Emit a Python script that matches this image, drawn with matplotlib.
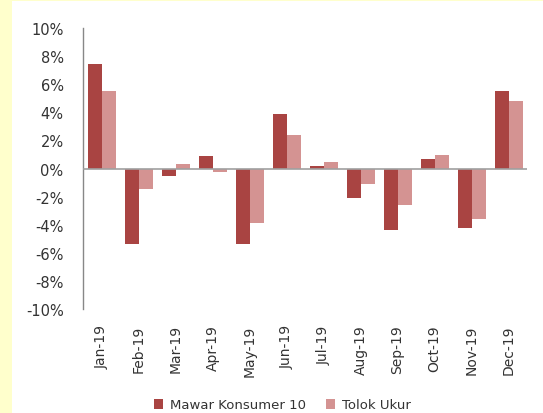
import matplotlib
matplotlib.use("Agg")
import matplotlib.pyplot as plt
import numpy as np
from matplotlib.patches import Rectangle
from matplotlib.ticker import FuncFormatter

months = ["Jan-19", "Feb-19", "Mar-19", "Apr-19", "May-19", "Jun-19",
          "Jul-19", "Aug-19", "Sep-19", "Oct-19", "Nov-19", "Dec-19"]
mawar = [7.45, -5.35, -0.52, 0.86, -5.35, 3.88, 0.17, -2.07, -4.40, 0.65, -4.25, 5.52]
tolok = [5.52, -1.47, 0.34, -0.26, -3.85, 2.37, 0.43, -1.07, -2.57, 0.96, -3.57, 4.80]
series_names = ["Mawar Konsumer 10", "Tolok Ukur"]
yticks = [-10, -8, -6, -4, -2, 0, 2, 4, 6, 8, 10]

c_dark = "#A94442"
c_light = "#D49392"

fig = plt.figure(figsize=(5.43, 4.14), dpi=100)
fig.patch.set_facecolor("white")
fig.patches.append(Rectangle((0, 0), 12/543, 1, transform=fig.transFigure,
                             facecolor="#FFFFCC", edgecolor="none", zorder=0))
fig.patches.append(Rectangle((0, 1-2/414), 1, 2/414, transform=fig.transFigure,
                             facecolor="#FFFFCC", edgecolor="none", zorder=0))

ax = fig.add_axes([83/543, 1-310/414, (527-83)/543, (310-29)/414])
x = np.arange(len(months))
w = 14/37
ax.bar(x - w/2, mawar, w, color=c_dark, label=series_names[0], zorder=2)
ax.bar(x + w/2, tolok, w, color=c_light, label=series_names[1], zorder=2)

ax.set_xlim(-0.5, len(months) - 0.5)
ax.set_ylim(-10, 10)
ax.set_yticks(yticks)
ax.yaxis.set_major_formatter(FuncFormatter(lambda v, p: f"{int(v)}%"))
ax.set_xticks(x)
ax.set_xticklabels(months, rotation=90)
ax.axhline(0, color="#A0A0A0", lw=1.2, zorder=3)

for s in ["top", "right", "bottom"]:
    ax.spines[s].set_visible(False)
ax.spines["left"].set_color("#888888")
ax.spines["left"].set_linewidth(1.0)
ax.tick_params(axis="y", length=0, pad=14, labelsize=10.5, labelcolor="#333333")
ax.tick_params(axis="x", length=0, pad=11, labelsize=10, labelcolor="#333333")

fig.legend(loc="center", bbox_to_anchor=(0.52, 1-406/414), ncol=2, frameon=False,
           fontsize=9.5, handlelength=0.7, handleheight=0.7, handletextpad=0.5,
           columnspacing=1.5, labelcolor="#333333", borderpad=0, borderaxespad=0)

fig.savefig("out.png", dpi=100)
